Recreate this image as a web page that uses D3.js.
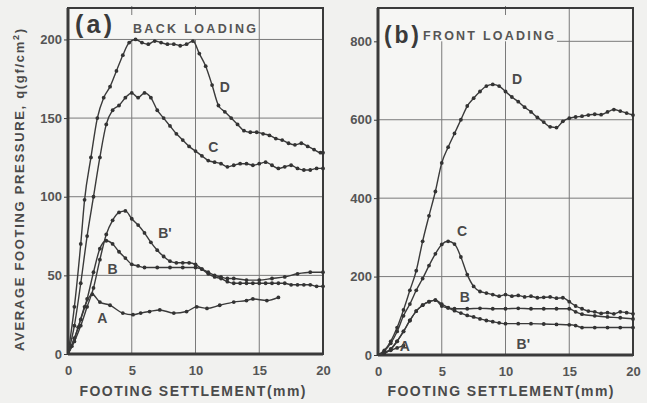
<!DOCTYPE html>
<html><head><meta charset="utf-8">
<script src="https://cdn.jsdelivr.net/npm/d3@7"></script>
<style>
html,body{margin:0;padding:0;background:#f1f1ef;}
svg{display:block;}
text{font-family:"Liberation Sans",Arial,sans-serif;font-weight:bold;fill:#4a4a4a;}
</style></head><body>
<svg id="c" width="647" height="403"></svg>
<script>
// ---------- DATA ----------
// Panel (a) BACK LOADING, q in gf/cm2, settlement in mm
const aD_x = [0,0.5,1,1.3,1.8,2.3,2.8,3.3,3.8,4.3,4.8,5.3,5.8,6.3,6.8,7.3,7.8,8.3,8.8,9.3,9.8,10.3,10.8,11.3,11.8,12.3,12.8,13.3,13.8,14.3,14.8,15.3,15.8,16.3,16.8,17.3,17.8,18.3,18.8,19.3,19.8,20];
const aD_q = [0,30,70,98,125,150,163,170,180,190,198,200,198,197,199,198,197,197,196,197,199,191,183,171,158,154,150,146,142,141,141,140,139,137,136,134,133,134,132,130,128,128];
const aC_x = [0,0.5,1,1.5,2,2.5,3,3.5,4,4.5,5,5.5,6,6.5,7,7.5,8,8.5,9,9.5,10,10.5,11,11.5,12,12.5,13,13.5,14,14.5,15,15.5,16,16.5,17,17.5,18,18.5,19,19.5,20];
const aC_q = [0,18,45,75,100,125,146,155,158,163,166,163,166,163,155,150,145,140,136,132,129,126,123,122,121,119,120,121,121,120,121,122,120,118,119,120,118,117,117,118,118];
const aBp_x = [0,0.5,1,1.5,2,2.5,3,3.5,4,4.5,5,5.5,6,6.5,7,7.5,8,8.5,9,9.5,10,10.5,11,11.5,12,12.5,13,13.5,14,14.5,15,15.5,16,16.5,17,17.5,18,18.5,19,19.5,20];
const aBp_q = [0,8,18,30,42,60,76,85,90,91,86,82,77,71,66,62,59,58,58,58,57,54,51,49,48,46,45,45,45,45,45,45,45,45,45,44,44,44,44,43,43];
const aB_x = [0,0.5,1,1.5,2,2.5,3,3.5,4,4.5,5,5.5,6,7,8,9,10,10.5,11,11.5,12,12.5,13,14,15,16,17,18,19,20];
const aB_q = [0,10,22,35,52,67,72,70,65,61,57,56,55,55,55,55,55,54,52,50,49,48,48,47,47,48,49,51,52,52];
const aA_x = [0,0.3,0.8,1.3,1.9,2.5,3.3,4.3,5.1,5.7,6.4,7.2,8.3,9.3,10.1,10.9,11.9,13,14,14.5,15.6,16.5];
const aA_q = [0,5,17,30,38,33,31,26,25,26,27,28,26,27,30,29,31,33,34,35,34,36];
// Panel (b) FRONT LOADING
const bD_x = [0,0.5,1,1.5,2,2.5,3,3.5,4,4.5,5,5.5,6,6.5,7,7.5,8,8.5,9,9.5,10,10.5,11,11.5,12,12.5,13,13.5,14,14.5,15,15.5,16,16.5,17,17.5,18,18.5,19,19.5,20];
const bD_q = [0,12,35,70,115,165,215,290,355,417,490,530,565,600,635,655,672,686,690,686,672,658,646,632,620,606,594,582,580,596,604,607,609,612,614,613,620,626,622,617,612];
const bC_x = [0,0.5,1,1.5,2,2.5,3,3.5,4,4.5,5,5.5,6,6.5,7,7.5,8,8.5,9,9.5,10,10.5,11,11.5,12,12.5,13,13.5,14,14.5,15,15.5,16,16.5,17,17.5,18,18.5,19,19.5,20];
const bC_q = [0,10,30,60,100,130,165,195,228,258,282,290,283,250,205,175,162,158,154,150,154,150,152,148,150,146,147,148,145,146,136,125,118,112,110,106,108,105,110,108,105];
const bB_x = [0,0.5,1,1.5,2,2.5,3,3.5,4,4.5,5,5.5,6,7,8,9,10,11,12,13,14,15,15.5,16,17,18,19,20];
const bB_q = [0,5,15,35,60,88,112,127,136,140,125,120,118,118,119,118,118,119,118,118,118,118,110,104,100,97,95,92];
const bBp_x = [0,0.5,1,1.5,2,2.5,3,3.5,4,4.5,5,5.5,6,6.5,7,7.5,8,8.5,9,9.5,10,11,12,13,14,15,15.5,16,17,18,19,20];
const bBp_q = [0,5,15,35,60,88,112,127,136,140,130,121,113,107,101,97,92,88,85,82,80,80,80,79,78,77,75,70,70,70,70,70];
const bA_x = [0,0.5,1,1.5,2];
const bA_q = [0,6,12,18,24];

const xTicks = [0,5,10,15,20];
const aYTicks = [0,50,100,150,200];
const bYTicks = [0,200,400,600,800];

// curve label anchors [name, settlement, q]
const aLabels = [["D",12.3,169],["C",11.4,131],["B'",7.6,76],["B",3.5,53],["A",2.7,22]];
const bLabels = [["D",10.9,701],["C",6.6,314],["B",6.8,145],["B'",11.4,26],["A",2.1,20]];

// ---------- DRAW ----------
const svg = d3.select("#c");
const ink = "#3a3a3a", grid = "#7a7a7a";

function panel(o){
  const x = d3.scaleLinear().domain([0,20]).range([o.x0,o.x1]);
  const y = d3.scaleLinear().domain([0,o.ymax]).range([o.y0,o.y1]);
  const g = svg.append("g");
  g.append("rect").attr("x",o.x0).attr("y",o.y1).attr("width",o.x1-o.x0).attr("height",o.y0-o.y1)
    .attr("fill","#f6f6f4");
  const topTick = o.yTicks[o.yTicks.length-1];
  // horizontal grid
  o.yTicks.slice(1).forEach((t,i)=>{
    const isTop = i===o.yTicks.length-2;
    g.append("line").attr("x1",isTop?o.topGridStart:o.x0).attr("x2",o.x1)
      .attr("y1",y(t)).attr("y2",y(t)).attr("stroke",grid).attr("stroke-width",1);
  });
  // vertical grid
  [5,10,15].forEach(t=>{
    const full = t===15;
    g.append("line").attr("x1",x(t)).attr("x2",x(t)).attr("y1",full?o.y1:y(topTick)).attr("y2",o.y0)
      .attr("stroke",grid).attr("stroke-width",1);
  });
  o.stubs.forEach(t=>{
    g.append("line").attr("x1",x(t)).attr("x2",x(t)).attr("y1",o.y1-2).attr("y2",o.y1+7)
      .attr("stroke",grid).attr("stroke-width",1);
  });
  // axes
  const xa = g.append("g").attr("transform",`translate(0,${o.y0})`)
    .call(d3.axisBottom(x).tickValues(xTicks).tickSize(0).tickPadding(12).tickFormat(d3.format("d")));
  xa.select(".domain").remove();
  xa.selectAll("text").attr("font-size",13).style("fill","#555").attr("font-family","Liberation Sans, Arial").attr("font-weight","bold");
  const ya = g.append("g").attr("transform",`translate(${o.x0},0)`)
    .call(d3.axisLeft(y).tickValues(o.yTicks).tickSize(4).tickPadding(2).tickFormat(d3.format("d")));
  ya.select(".domain").remove();
  ya.selectAll("line").attr("stroke",ink);
  ya.selectAll("text").attr("font-size",13).style("fill","#555").attr("font-family","Liberation Sans, Arial").attr("font-weight","bold");
  // frame
  g.append("rect").attr("x",o.x0).attr("y",o.y1).attr("width",o.x1-o.x0).attr("height",o.y0-o.y1)
    .attr("fill","none").attr("stroke",ink).attr("stroke-width",2);
  g.append("line").attr("x1",o.x0).attr("x2",o.x1).attr("y1",o.y0).attr("y2",o.y0).attr("stroke",ink).attr("stroke-width",3);
  g.append("line").attr("x1",o.x0).attr("x2",o.x0).attr("y1",o.y1).attr("y2",o.y0).attr("stroke",ink).attr("stroke-width",3);
  // curves
  const line = d3.line().x(d=>x(d[0])).y(d=>y(d[1])).curve(d3.curveMonotoneX);
  o.series.forEach(s=>{
    const pts = s[0].map((v,i)=>[v,s[1][i]]);
    g.append("path").datum(pts).attr("d",line).attr("fill","none").attr("stroke",ink).attr("stroke-width",1.4);
    g.selectAll(null).data(pts.slice(1)).enter().append("circle")
      .attr("cx",d=>x(d[0])).attr("cy",d=>y(d[1])).attr("r",1.9).attr("fill","#333");
  });
  // curve labels
  o.labels.forEach(l=>{
    g.append("text").attr("x",x(l[1])).attr("y",y(l[2])).attr("text-anchor","middle")
      .attr("dominant-baseline","middle").attr("font-size",14).style("fill","#4a4a4a").text(l[0]);
  });
  // panel labels
  g.append("text").attr("x",o.pl[0]).attr("y",o.pl[1]).attr("font-size",o.pl[2]).attr("textLength",o.pl[3])
    .style("fill","#3a3a3a").text(o.panel);
  g.append("text").attr("x",o.tl[0]).attr("y",o.tl[1]).attr("font-size",12.5).attr("textLength",o.tl[2])
    .style("fill","#555").text(o.title);
  // x title
  g.append("text").attr("x",(o.x0+o.x1)/2+o.xtOff).attr("y",396).attr("text-anchor","middle")
    .attr("font-size",14).attr("textLength",226).style("fill","#4a4a4a").text("FOOTING SETTLEMENT(mm)");
}

panel({x0:68,x1:323,y0:354,y1:8,ymax:220,yTicks:aYTicks,topGridStart:68,stubs:[5,10],
  series:[[aD_x,aD_q],[aC_x,aC_q],[aBp_x,aBp_q],[aB_x,aB_q],[aA_x,aA_q]],
  labels:aLabels,panel:"(a)",pl:[75,33,25,37],title:"BACK LOADING",tl:[133,33,123],xtOff:-3});
panel({x0:378,x1:633,y0:355,y1:8,ymax:885,yTicks:bYTicks,topGridStart:557,stubs:[10],
  series:[[bD_x,bD_q],[bC_x,bC_q],[bB_x,bB_q],[bBp_x,bBp_q],[bA_x,bA_q]],
  labels:bLabels,panel:"(b)",pl:[384,43,23,35],title:"FRONT LOADING",tl:[423,40,131],xtOff:-5});

// y axis title
svg.append("text").attr("transform","translate(24,190) rotate(-90)").attr("text-anchor","middle")
  .attr("font-size",13).attr("textLength",322).style("fill","#4a4a4a")
  .html('AVERAGE FOOTING PRESSURE, q(gf/cm<tspan dy="-5" font-size="9">2</tspan><tspan dy="5">)</tspan>');
</script>
</body></html>
